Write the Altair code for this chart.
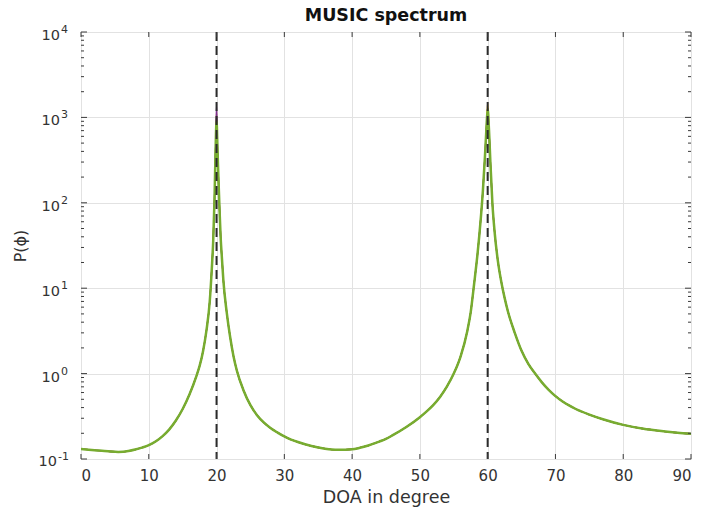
import altair as alt
import pandas as pd

# ---------------- data ----------------
doa = [0, 2, 4, 5.5, 7, 8, 9, 10, 11, 12, 13, 14, 15, 16, 17, 17.5, 18, 18.5, 19, 19.3, 19.5,
       19.7, 19.85, 20, 20.15, 20.3, 20.45, 20.6, 20.8, 21, 21.5, 22, 22.5, 23, 24, 25, 26,
       27, 28, 29, 30, 31, 32, 34, 36, 37, 38, 40, 42, 44, 45, 46, 48, 50, 51, 52, 53, 54, 55,
       56, 57, 57.5, 58, 58.5, 59, 59.3, 59.6, 59.8, 60, 60.2, 60.4, 60.7, 61, 61.5, 62, 62.5,
       63, 64, 65, 66, 67, 68, 69, 70, 71, 72, 73, 75, 77, 80, 83, 85, 88, 90]
p_base = [0.131, 0.127, 0.123, 0.121, 0.124, 0.129, 0.136, 0.145, 0.160, 0.184, 0.221, 0.282,
          0.385, 0.569, 0.923, 1.23, 1.82, 3.16, 7.08, 17, 35,
          110, 400, None, 400, 170, 80, 40, 22, 12.5, 5.2, 2.7, 1.6, 1.08, 0.631, 0.427, 0.324,
          0.266, 0.229, 0.204, 0.184, 0.169, 0.158, 0.142, 0.132, 0.129, 0.128, 0.130, 0.141,
          0.160, 0.172, 0.19, 0.237, 0.309, 0.361, 0.431, 0.537, 0.708, 1.0,
          1.585, 3.16, 5.25, 11.2, 25, 68, 140, 350, 700, None, 700, 300, 98, 48, 21, 12, 7.7,
          5.3, 3.0, 1.85, 1.3, 1.0, 0.79, 0.645, 0.545, 0.475, 0.424, 0.385, 0.331, 0.292,
          0.251, 0.226, 0.215, 0.203, 0.198]

series = ["s1", "s2", "s3", "s4", "s5"]
colors = ["#0072BD", "#D95319", "#EDB120", "#7E2F8E", "#77AC30"]
peak20 = [1100, 1000, 1200, 1450, 900]
peak60 = [1200, 1320, 1500, 1100, 1250]

true_doa = [20, 60]
x_ticks = [0, 10, 20, 30, 40, 50, 60, 70, 80, 90]
y_exps = [-1, 0, 1, 2, 3, 4]

# ---------------- tables ----------------
rows = []
for si, s in enumerate(series):
    for x, v in zip(doa, p_base):
        if v is None:
            v = peak20[si] if x == 20 else peak60[si]
        rows.append({"doa": x, "P": v, "series": s, "order": si})
curves = pd.DataFrame(rows)

dec = pd.DataFrame({"e": y_exps, "v": [10.0 ** e for e in y_exps]})
minor = pd.DataFrame({"v": [m * 10.0 ** e for e in y_exps[:-1] for m in range(2, 10)]})
xt = pd.DataFrame({"x": x_ticks})
doa_df = pd.DataFrame({"x": true_doa})

W, H = 610, 427
FONT = "DejaVu Sans"
AX = "#3a3a3a"
TXT = "#333333"

xs = alt.Scale(domain=[0, 90], nice=False, zero=False)
ys = alt.Scale(type="log", domain=[0.1, 10000], nice=False)
cs = alt.Scale(domain=series, range=colors)

base_x = alt.X("doa:Q", scale=xs,
               axis=alt.Axis(values=x_ticks, title="DOA in degree", grid=True,
                             gridColor="#e2e2e2", gridWidth=1, domain=False, ticks=False,
                             labelFont=FONT, labelFontSize=15, labelColor=TXT,
                             labelPadding=9, titleFont=FONT, titleFontSize=17.5,
                             titleFontWeight="normal", titleColor=TXT,
                             titleX=W / 2, titleY=38, titleBaseline="middle"))
base_y = alt.Y("P:Q", scale=ys,
               axis=alt.Axis(values=[10.0 ** e for e in y_exps], title="P(ϕ)", grid=True,
                             gridColor="#e2e2e2", gridWidth=1, domain=False, ticks=False,
                             labels=False, titleFont=FONT, titleFontSize=16,
                             titleFontWeight="normal", titleColor=TXT,
                             titleX=-61, titleY=H / 2, titleAngle=270,
                             titleAlign="center", titleBaseline="middle"))

under = alt.Chart(curves).transform_filter("datum.series != 's5'").mark_line(
    clip=True, interpolate="monotone", strokeWidth=1.3).encode(
    x=base_x, y=base_y,
    color=alt.Color("series:N", scale=cs, legend=None),
    order=alt.Order("doa:Q"),
    detail="series:N",
)
top = alt.Chart(curves).transform_filter("datum.series == 's5'").mark_line(
    clip=True, interpolate="monotone", strokeWidth=2.5).encode(
    x=alt.X("doa:Q", scale=xs), y=alt.Y("P:Q", scale=ys),
    color=alt.Color("series:N", scale=cs, legend=None),
    order=alt.Order("doa:Q"),
)

dashed = alt.Chart(doa_df).mark_rule(color="#2b2b2b", strokeWidth=2,
                                     strokeDash=[9, 5]).encode(
    x=alt.X("x:Q", scale=xs), y=alt.value(0), y2=alt.value(H))

# inward ticks
xt_bot = alt.Chart(xt).mark_rule(color=AX, strokeWidth=1).encode(
    x=alt.X("x:Q", scale=xs), y=alt.value(H), y2=alt.value(H - 5))
xt_top = alt.Chart(xt).mark_rule(color=AX, strokeWidth=1).encode(
    x=alt.X("x:Q", scale=xs), y=alt.value(0), y2=alt.value(5))
yt_l = alt.Chart(dec).mark_rule(color=AX, strokeWidth=1).encode(
    y=alt.Y("v:Q", scale=ys), x=alt.value(0), x2=alt.value(6))
yt_r = alt.Chart(dec).mark_rule(color=AX, strokeWidth=1).encode(
    y=alt.Y("v:Q", scale=ys), x=alt.value(W), x2=alt.value(W - 6))
ym_l = alt.Chart(minor).mark_rule(color=AX, strokeWidth=1).encode(
    y=alt.Y("v:Q", scale=ys), x=alt.value(0), x2=alt.value(3))
ym_r = alt.Chart(minor).mark_rule(color=AX, strokeWidth=1).encode(
    y=alt.Y("v:Q", scale=ys), x=alt.value(W), x2=alt.value(W - 3))

# y tick labels: "10" with superscript exponent
ten_pos = alt.Chart(dec).transform_filter("datum.e >= 0").mark_text(
    text="10", font=FONT, fontSize=14.5, color=TXT, align="right",
    baseline="middle", dx=-21, dy=4).encode(x=alt.value(0), y=alt.Y("v:Q", scale=ys))
ten_neg = alt.Chart(dec).transform_filter("datum.e < 0").mark_text(
    text="10", font=FONT, fontSize=14.5, color=TXT, align="right",
    baseline="middle", dx=-24, dy=3).encode(x=alt.value(0), y=alt.Y("v:Q", scale=ys))
sup_pos = alt.Chart(dec).transform_filter("datum.e >= 0").mark_text(
    font=FONT, fontSize=11, color=TXT, align="left",
    baseline="middle", dx=-20, dy=-2).encode(x=alt.value(0), y=alt.Y("v:Q", scale=ys),
                                             text=alt.Text("e:N"))
sup_neg = alt.Chart(dec).transform_filter("datum.e < 0").mark_text(
    font=FONT, fontSize=11, color=TXT, align="left",
    baseline="middle", dx=-23, dy=-2).encode(x=alt.value(0), y=alt.Y("v:Q", scale=ys),
                                             text=alt.Text("e:N"))

chart = alt.layer(
    under, top, dashed, xt_bot, xt_top, yt_l, yt_r, ym_l, ym_r,
    ten_pos, ten_neg, sup_pos, sup_neg
).properties(
    width=W, height=H,
    title=alt.TitleParams("MUSIC spectrum", font=FONT, fontSize=17.5, fontWeight="bold",
                          color="#111111", anchor="middle", offset=10, dy=10),
    autosize=alt.AutoSizeParams(type="none"),
    padding={"left": 81, "top": 32, "right": 11, "bottom": 51},
).configure_view(
    stroke=AX, strokeWidth=1.5
).configure(background="white")

chart.save("out.html", embed_options={"renderer": "svg", "actions": False})
